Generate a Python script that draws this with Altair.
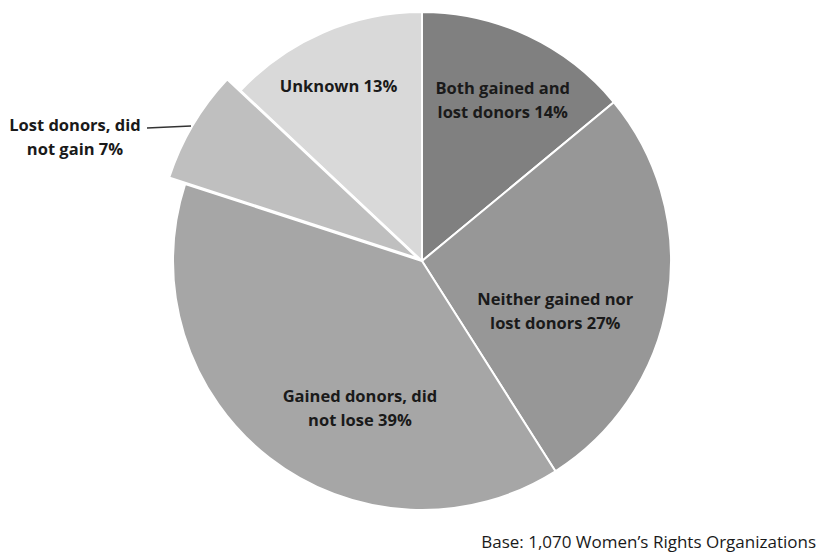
import altair as alt
import pandas as pd
import math

# Share of women's rights organizations by change in donors
categories = [
    "Both gained and lost donors",
    "Neither gained nor lost donors",
    "Gained donors, did not lose",
    "Lost donors, did not gain",
    "Unknown",
]
shares = [14, 27, 39, 7, 13]
label_lines = [
    "Both gained and\nlost donors 14%",
    "Neither gained nor\nlost donors 27%",
    "Gained donors, did\nnot lose 39%",
    "Lost donors, did\nnot gain 7%",
    "Unknown 13%",
]
greys = ["#808080", "#979797", "#a6a6a6", "#bfbfbf", "#d9d9d9"]
footnote = "Base: 1,070 Women\u2019s Rights Organizations"

df = pd.DataFrame({
    "category": categories,
    "share": shares,
    "label": label_lines,
    "order": list(range(len(categories))),
})

W, H = 818, 554
CX, CY, R = 422, 261, 249
FONT = "Open Sans"

theta_scale = alt.Scale(domain=[0, 100], range=[0, 2 * math.pi])
color_scale = alt.Scale(domain=categories, range=greys)

base = (
    alt.Chart(df)
    .transform_window(cum="sum(share)", sort=[alt.SortField("order")], frame=[None, 0])
    .transform_calculate(
        start="datum.cum - datum.share",
        mid="datum.cum - datum.share / 2",
    )
)

slices = base.transform_filter("datum.order != 3").mark_arc(
    radius=R, stroke="white", strokeWidth=2
).encode(
    theta=alt.Theta("start:Q", scale=theta_scale, stack=False),
    theta2="cum:Q",
    color=alt.Color("category:N", scale=color_scale, legend=None),
    x=alt.value(CX),
    y=alt.value(CY),
)

# pulled-out slice
pulled = base.transform_filter("datum.order == 3").mark_arc(
    radius=263, stroke="white", strokeWidth=2.5, xOffset=-3, yOffset=-2
).encode(
    theta=alt.Theta("start:Q", scale=theta_scale, stack=False),
    theta2="cum:Q",
    color=alt.Color("category:N", scale=color_scale, legend=None),
    x=alt.value(CX),
    y=alt.value(CY),
)

# label placement: (radius, dx, dy) per category
label_pos = [(185, 2, -5), (140, -5, 17), (160, 36, 10), (330, -63, 33), (190, -8, 0)]

labels = []
for i, (r, dx, dy) in enumerate(label_pos):
    labels.append(
        base.transform_filter(f"datum.order == {i}").mark_text(
            radius=r, dx=dx, dy=dy, font=FONT, fontWeight="bold", fontSize=16.5,
            lineBreak="\n", lineHeight=24, align="center", baseline="middle",
            color="#1a1a1a",
        ).encode(
            theta=alt.Theta("mid:Q", scale=theta_scale, stack=False),
            text="label:N",
            x=alt.value(CX),
            y=alt.value(CY),
        )
    )

leader = alt.Chart(df).transform_filter("datum.order == 3").mark_rule(
    color="#333333", strokeWidth=1.5
).encode(x=alt.value(147), x2=alt.value(191), y=alt.value(128), y2=alt.value(126))

note = alt.Chart(pd.DataFrame({"t": [footnote]})).mark_text(
    font=FONT, fontSize=17, align="right", baseline="middle", color="#1a1a1a"
).encode(text="t:N", x=alt.value(816), y=alt.value(543))

chart = alt.layer(slices, pulled, *labels, leader, note).properties(
    width=W, height=H, padding=0, autosize=alt.AutoSizeParams(type="none"),
    background="white",
).configure_view(stroke=None)

chart.save("out.html", embed_options={"renderer": "svg", "actions": False})
